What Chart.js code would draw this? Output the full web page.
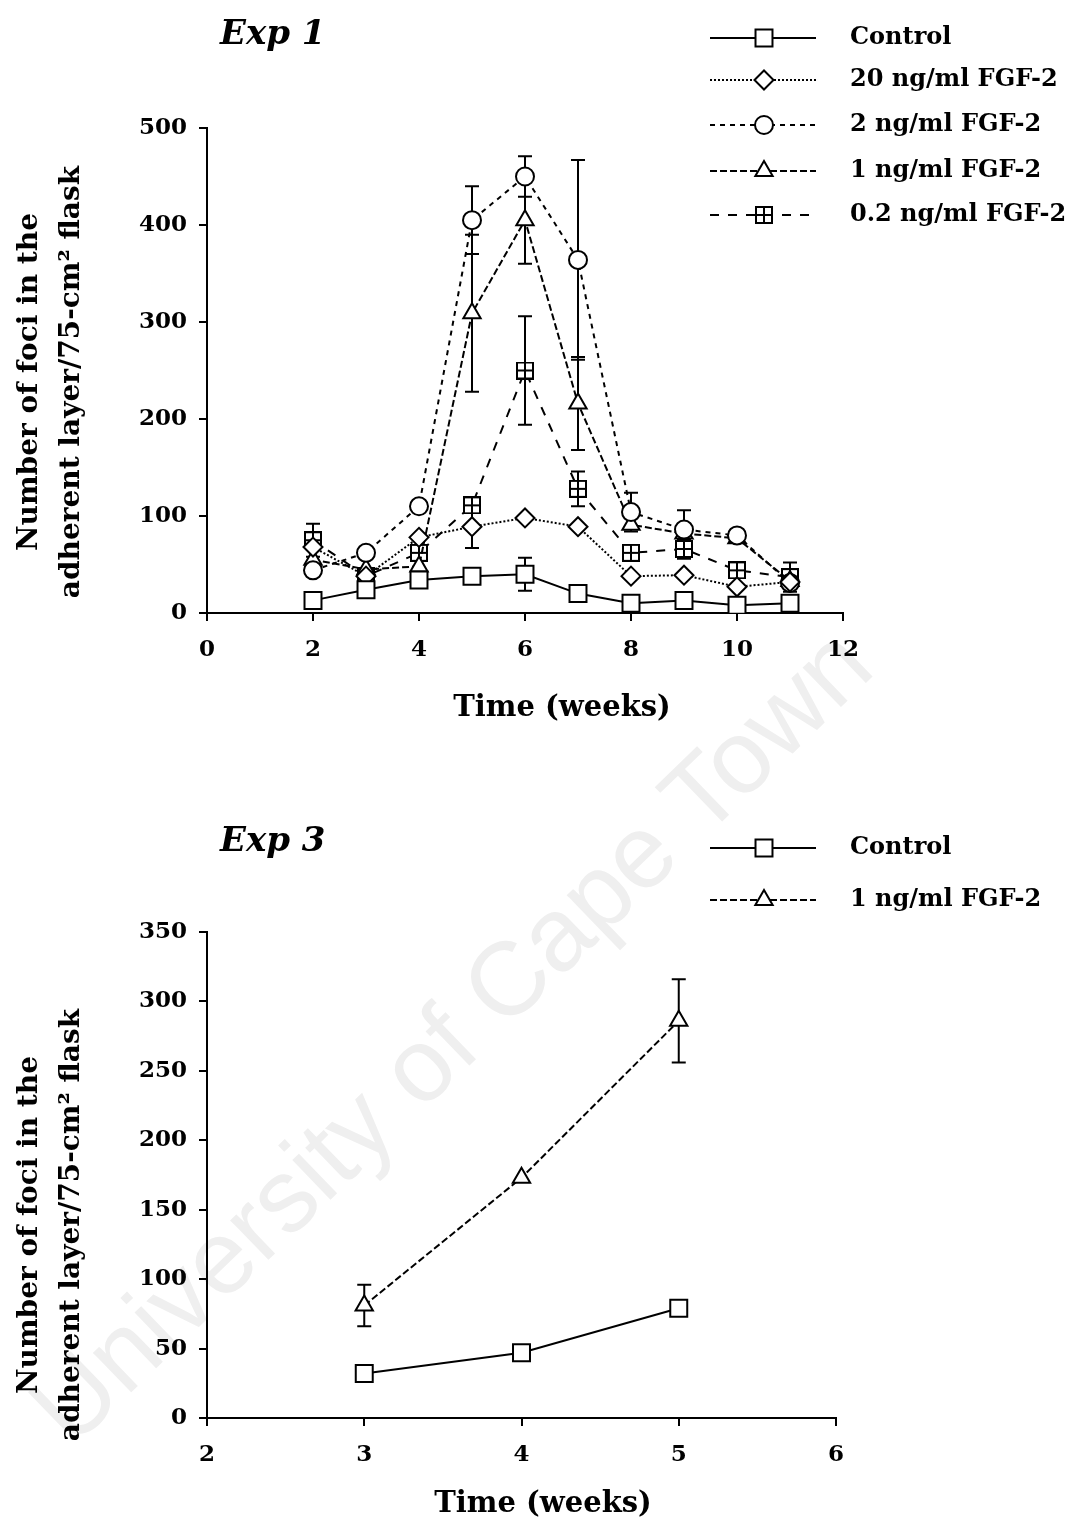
<!DOCTYPE html>
<html>
<head>
<meta charset="utf-8">
<script src="https://cdn.jsdelivr.net/npm/chart.js@4.4.1/dist/chart.umd.min.js"></script>
<style>
html, body { margin: 0; padding: 0; background: #fff; }
body { width: 1076px; height: 1521px; position: relative; overflow: hidden; }
canvas { position: absolute; left: 0; z-index: 1; }
#c1 { top: 0; }
#c2 { top: 760px; }
.wm {
  position: absolute; left: 450px; top: 1035px; z-index: 0;
  font-family: 'Liberation Sans', Arial, sans-serif; font-size: 104px;
  color: #efefef; white-space: nowrap;
  transform: translate(-50%, -50%) rotate(-44deg);
}
</style>
</head>
<body>
<div class="wm">University of Cape Town</div>
<canvas id="c1" width="1076" height="760"></canvas>
<canvas id="c2" width="1076" height="761"></canvas>
<script>
// Exp 1 data (weeks)
const weeks1 = [2, 3, 4, 5, 6, 7, 8, 9, 10, 11];
const control1 = [13, 24, 34, 38, 40, 20, 10, 13, 8, 10];
const control1Err = [0, 0, 0, 0, 17, 0, 0, 0, 0, 0];
const fgf20 = [68, 38, 78, 89, 98, 89, 38, 39, 27, 32];
const fgf20Err = [0, 0, 0, 22, 0, 0, 0, 0, 0, 0];
const fgf2 = [44, 62, 110, 405, 450, 364, 104, 86, 80, 31];
const fgf2Err = [0, 0, 0, 35, 21, 103, 20, 20, 0, 0];
const fgf1 = [55, 45, 48, 309, 405, 216, 91, 82, 77, 33];
const fgf1Err = [0, 0, 0, 81, 45, 48, 0, 0, 0, 0];
const fgf02 = [75, 38, 62, 111, 250, 128, 62, 66, 44, 37];
const fgf02Err = [17, 0, 0, 0, 56, 18, 0, 10, 0, 15];
const xTicks1 = [0, 2, 4, 6, 8, 10, 12];
const yTicks1 = [0, 100, 200, 300, 400, 500];

// Exp 3 data
const weeks3 = [3, 4, 5];
const control3 = [32, 47, 79];
const fgf1Exp3 = [81, 173, 286];
const fgf1Exp3Err = [15, 0, 30];
const xTicks3 = [2, 3, 4, 5, 6];
const yTicks3 = [0, 50, 100, 150, 200, 250, 300, 350];

const labels1 = ['Control', '20 ng/ml FGF-2', '2 ng/ml FGF-2', '1 ng/ml FGF-2', '0.2 ng/ml FGF-2'];
const labels3 = ['Control', '1 ng/ml FGF-2'];
const yTitle = ['Number of foci in the', 'adherent layer/75-cm\u00B2 flask'];
const xTitle = 'Time (weeks)';

const SERIF = "'DejaVu Serif', 'Liberation Serif', serif";
Chart.defaults.font.family = SERIF;
Chart.defaults.color = '#000';

// square split in four, for the 0.2 ng/ml series
function gridSquare(size) {
  const c = document.createElement('canvas');
  c.width = size; c.height = size;
  const g = c.getContext('2d');
  g.fillStyle = '#fff';
  g.fillRect(1, 1, size - 2, size - 2);
  g.strokeStyle = '#000';
  g.lineWidth = 2;
  g.strokeRect(1, 1, size - 2, size - 2);
  g.beginPath();
  g.moveTo(size / 2, 1); g.lineTo(size / 2, size - 1);
  g.moveTo(1, size / 2); g.lineTo(size - 1, size / 2);
  g.stroke();
  return c;
}

function pts(xs, ys) {
  return xs.map((x, i) => ({ x: x, y: ys[i] }));
}

function series(label, xs, ys, errs, style, radius, dash) {
  return {
    label: label,
    data: pts(xs, ys),
    errors: errs,
    borderColor: '#000',
    borderWidth: 2,
    borderDash: dash,
    pointStyle: style,
    pointRadius: radius,
    pointHoverRadius: radius,
    pointBackgroundColor: '#fff',
    pointBorderColor: '#000',
    pointBorderWidth: 2,
    tension: 0,
    fill: false
  };
}

const errorBars = {
  id: 'errorBars',
  beforeDatasetsDraw(chart) {
    const ctx = chart.ctx;
    const ys = chart.scales.y;
    chart.data.datasets.forEach((ds, di) => {
      if (!ds.errors) return;
      const meta = chart.getDatasetMeta(di);
      ctx.save();
      ctx.strokeStyle = '#000';
      ctx.lineWidth = 2;
      ctx.setLineDash([]);
      meta.data.forEach((pt, i) => {
        const e = ds.errors[i];
        if (!e) return;
        const v = ds.data[i].y;
        const top = ys.getPixelForValue(v + e);
        const bot = ys.getPixelForValue(v - e);
        ctx.beginPath();
        ctx.moveTo(pt.x, top); ctx.lineTo(pt.x, bot);
        ctx.moveTo(pt.x - 7, top); ctx.lineTo(pt.x + 7, top);
        ctx.moveTo(pt.x - 7, bot); ctx.lineTo(pt.x + 7, bot);
        ctx.stroke();
      });
      ctx.restore();
    });
  }
};

// panel title, legend with line + marker, axis titles
const decor = {
  id: 'decor',
  afterDraw(chart, args, opts) {
    const ctx = chart.ctx;
    ctx.save();
    ctx.fillStyle = '#000';
    ctx.font = 'italic bold 34px ' + SERIF;
    ctx.textAlign = 'left';
    ctx.textBaseline = 'alphabetic';
    ctx.fillText(opts.title, 220, opts.titleY);

    ctx.font = 'bold 29px ' + SERIF;
    ctx.textAlign = 'center';
    ctx.textBaseline = 'middle';
    ctx.fillText(xTitle, opts.xTitleX, opts.xTitleY);

    ctx.font = 'bold 28px ' + SERIF;
    yTitle.forEach((t, i) => {
      ctx.save();
      ctx.translate(opts.yTitleX[i], opts.yTitleCenter);
      ctx.rotate(-Math.PI / 2);
      ctx.fillText(t, 0, 0);
      ctx.restore();
    });

    chart.data.datasets.forEach((ds, i) => {
      const y = opts.legendY[i];
      ctx.strokeStyle = '#000';
      ctx.lineWidth = 2;
      ctx.setLineDash(ds.borderDash || []);
      ctx.beginPath();
      ctx.moveTo(710, y); ctx.lineTo(816, y);
      ctx.stroke();
      ctx.setLineDash([]);
      ctx.fillStyle = '#fff';
      ctx.lineWidth = 2;
      if (Chart.helpers && Chart.helpers.drawPoint) {
        Chart.helpers.drawPoint(ctx, { pointStyle: ds.pointStyle, radius: ds.pointRadius, rotation: 0, borderWidth: 2 }, 764, y);
      }
      ctx.fillStyle = '#000';
      ctx.font = 'bold 24px ' + SERIF;
      ctx.textAlign = 'left';
      ctx.fillText(ds.label, 850, y);
    });
    ctx.restore();
  }
};

function axes(xt, yt, xHeight) {
  const tickFont = { family: SERIF, size: 23, weight: 'bold' };
  const grid = { display: true, drawOnChartArea: false, drawTicks: true, tickLength: 8, color: '#000', lineWidth: 2 };
  const border = { display: true, color: '#000', width: 2 };
  return {
    x: {
      type: 'linear', min: xt[0], max: xt[xt.length - 1],
      ticks: { stepSize: xt[1] - xt[0], font: tickFont, color: '#000', padding: 15 },
      grid: grid, border: border,
      afterFit: s => { s.height = xHeight; }
    },
    y: {
      type: 'linear', min: yt[0], max: yt[yt.length - 1],
      ticks: { stepSize: yt[1] - yt[0], font: tickFont, color: '#000', padding: 12 },
      grid: grid, border: border,
      afterFit: s => { s.width = 207; }
    }
  };
}

const grid02 = gridSquare(18);

new Chart(document.getElementById('c1'), {
  type: 'line',
  data: {
    datasets: [
      series(labels1[0], weeks1, control1, control1Err, 'rect', 12, []),
      series(labels1[1], weeks1, fgf20, fgf20Err, 'rectRot', 9.5, [2, 2]),
      series(labels1[2], weeks1, fgf2, fgf2Err, 'circle', 9, [5, 5]),
      series(labels1[3], weeks1, fgf1, fgf1Err, 'triangle', 10, [7, 3]),
      series(labels1[4], weeks1, fgf02, fgf02Err, grid02, 9, [9, 9])
    ]
  },
  options: {
    responsive: false,
    animation: false,
    layout: { padding: { left: 0, top: 128, right: 233, bottom: 37 } },
    scales: axes(xTicks1, yTicks1, 110),
    plugins: {
      legend: { display: false },
      tooltip: { enabled: false },
      decor: { title: 'Exp 1', titleY: 44, legendY: [38, 80, 125, 171, 215],
               yTitleX: [30, 72], yTitleCenter: 382, xTitleX: 562, xTitleY: 708 }
    }
  },
  plugins: [errorBars, decor]
});

new Chart(document.getElementById('c2'), {
  type: 'line',
  data: {
    datasets: [
      series(labels3[0], weeks3, control3, null, 'rect', 12, []),
      series(labels3[1], weeks3, fgf1Exp3, fgf1Exp3Err, 'triangle', 10, [7, 3])
    ]
  },
  options: {
    responsive: false,
    animation: false,
    layout: { padding: { left: 0, top: 172, right: 240, bottom: 1 } },
    scales: axes(xTicks3, yTicks3, 102),
    plugins: {
      legend: { display: false },
      tooltip: { enabled: false },
      decor: { title: 'Exp 3', titleY: 91, legendY: [88, 140],
               yTitleX: [30, 72], yTitleCenter: 465, xTitleX: 543, xTitleY: 744 }
    }
  },
  plugins: [errorBars, decor]
});
</script>
</body>
</html>
